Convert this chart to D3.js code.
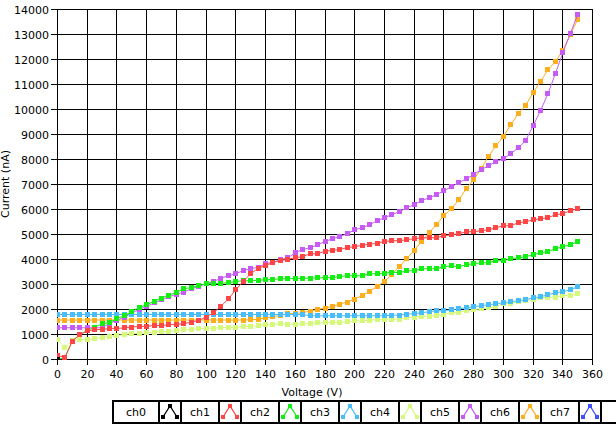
<!DOCTYPE html>
<html><head><meta charset="utf-8">
<script src="https://cdn.jsdelivr.net/npm/d3@7"></script>
<style>
html,body{margin:0;padding:0;background:#fff;overflow:hidden}
svg{display:block;font-family:"DejaVu Sans",Verdana,sans-serif;font-size:11px}
</style></head><body><svg id="c" width="616" height="424"></svg>
<script>
const voltages=[0,5,10,15,20,25,30,35,40,45,50,55,60,65,70,75,80,85,90,95,100,105,110,115,120,125,130,135,140,145,150,155,160,165,170,175,180,185,190,195,200,205,210,215,220,225,230,235,240,245,250,255,260,265,270,275,280,285,290,295,300,305,310,315,320,325,330,335,340,345,350];
const ch0=[0];
const ch1=[150,100,740,990,1150,1190,1210,1230,1240,1270,1300,1320,1330,1360,1360,1390,1410,1430,1500,1560,1700,1870,2130,2430,2790,3130,3430,3650,3760,3880,3960,4010,4070,4120,4230,4230,4330,4360,4400,4480,4510,4570,4610,4650,4720,4750,4750,4790,4830,4870,4870,4870,4950,4990,5030,5110,5110,5150,5190,5270,5350,5350,5470,5510,5590,5630,5670,5790,5830,5950,6030];
const ch2=[0,70,740,1000,1160,1290,1430,1480,1630,1760,1910,2080,2190,2330,2460,2580,2680,2830,2880,2960,3030,3030,3050,3070,3120,3150,3150,3170,3190,3200,3230,3230,3240,3250,3250,3270,3270,3280,3320,3350,3350,3350,3430,3430,3440,3500,3470,3550,3550,3630,3630,3630,3710,3750,3710,3790,3830,3870,3870,3950,3950,4030,4070,4110,4190,4270,4310,4430,4510,4590,4710];
const ch3=[1800,1800,1800,1800,1800,1800,1800,1800,1800,1800,1800,1800,1800,1800,1800,1800,1800,1800,1800,1800,1800,1800,1800,1800,1800,1800,1800,1800,1800,1800,1800,1800,1800,1800,1750,1750,1750,1750,1750,1750,1750,1750,1750,1750,1750,1770,1780,1820,1830,1870,1910,1950,1950,1990,2030,2070,2110,2150,2190,2230,2270,2310,2350,2390,2470,2510,2590,2670,2710,2790,2910];
const ch4=[800,470,760,790,790,830,890,920,960,1000,1030,1050,1070,1090,1120,1130,1160,1190,1210,1230,1250,1250,1280,1280,1290,1320,1320,1360,1390,1400,1430,1410,1410,1430,1430,1470,1470,1480,1490,1510,1550,1550,1570,1590,1610,1620,1620,1670,1690,1730,1730,1770,1810,1870,1890,1950,1990,2030,2070,2130,2230,2250,2310,2350,2390,2470,2490,2490,2570,2550,2630];
const ch5=[1270,1270,1270,1270,1270,1270,1270,1450,1570,1700,1850,2010,2130,2260,2390,2510,2610,2700,2830,2920,3030,3120,3250,3350,3430,3560,3630,3690,3830,3890,3990,4070,4270,4400,4470,4590,4720,4830,4920,5030,5190,5270,5390,5550,5670,5800,5910,6070,6190,6350,6470,6590,6750,6910,7070,7230,7390,7590,7750,7910,8030,8230,8470,8750,9350,9950,10630,11430,12270,13030,13790];
const ch6=[1580,1580,1580,1580,1580,1580,1580,1580,1580,1580,1580,1580,1580,1580,1580,1580,1580,1580,1580,1580,1580,1580,1580,1580,1580,1580,1590,1610,1670,1710,1760,1830,1850,1870,1940,2000,2050,2130,2220,2300,2420,2560,2730,2920,3120,3400,3720,4030,4370,4710,5070,5400,5750,6030,6380,6830,7190,7630,8120,8550,8920,9390,9830,10160,10670,11110,11590,11910,12360,12980,13600];
const ch7=[];
const seriesNames=["ch0","ch1","ch2","ch3","ch4","ch5","ch6","ch7"];
const seriesColors=["#000000","#ff4646","#14ee14","#48bdfa","#d6f87c","#c65cf4","#fdae1c","#4050fa"];
const seriesValues=[ch0,ch1,ch2,ch3,ch4,ch5,ch6,ch7];
const xTicks=[0,20,40,60,80,100,120,140,160,180,200,220,240,260,280,300,320,340,360];
const yTicks=[0,1000,2000,3000,4000,5000,6000,7000,8000,9000,10000,11000,12000,13000,14000];

const svg=d3.select("#c");
const x=d3.scaleLinear().domain([0,360]).range([57.5,592.5]);
const y=d3.scaleLinear().domain([0,14000]).range([359.5,9.5]);
const px=v=>Math.round(x(v)-0.5)+0.5;
const py=v=>Math.round(y(v)-0.5)+0.5;

svg.append("rect").attr("width",616).attr("height",424).attr("fill","#fff");

// grid
const g=svg.append("g").attr("shape-rendering","crispEdges").attr("stroke","#000").attr("stroke-width",1);
xTicks.forEach(t=>{
  g.append("line").attr("x1",px(t)).attr("x2",px(t)).attr("y1",py(14000)).attr("y2",py(0)+5);
});
yTicks.forEach(t=>{
  g.append("line").attr("x1",px(0)-7).attr("x2",px(360)).attr("y1",py(t)).attr("y2",py(t));
});

// tick labels
const tl=svg.append("g").attr("fill","#000");
yTicks.forEach(t=>{
  tl.append("text").attr("x",49).attr("y",py(t)+4).attr("text-anchor","end").text(t);
});
xTicks.forEach(t=>{
  tl.append("text").attr("x",px(t)).attr("y",378).attr("text-anchor","middle").text(t);
});
svg.append("text").attr("x",312).attr("y",396).attr("text-anchor","middle").text("Voltage (V)");
svg.append("text").attr("transform","translate(9,184) rotate(-90)").attr("text-anchor","middle").text("Current (nA)");

// clip
svg.append("clipPath").attr("id","pc").append("rect").attr("x",57).attr("y",9).attr("width",536).attr("height",351);
const plot=svg.append("g").attr("clip-path","url(#pc)");
const line=d3.line().x((d,i)=>x(voltages[i])).y(d=>y(d));
const ms=5;
for(let s=seriesValues.length-1;s>=0;s--){
  const vals=seriesValues[s];
  if(!vals.length) continue;
  const col=seriesColors[s];
  const sg=plot.append("g");
  sg.append("path").attr("d",line(vals)).attr("fill","none").attr("stroke",col).attr("stroke-width",1);
  sg.selectAll("rect").data(vals).join("rect")
    .attr("x",(d,i)=>Math.round(x(voltages[i])-ms/2))
    .attr("y",d=>Math.round(y(d)-ms/2))
    .attr("width",ms).attr("height",ms).attr("fill",col);
}

// legend
const lg=svg.append("g").attr("shape-rendering","crispEdges");
lg.append("rect").attr("x",112).attr("y",400).attr("width",510).attr("height",24).attr("fill","#000");
const cellTop=402, cellH=20;
let cx=114;
seriesNames.forEach((n,i)=>{
  const lw=(i===0)?44:36;
  lg.append("rect").attr("x",cx).attr("y",cellTop).attr("width",lw).attr("height",cellH).attr("fill","#fff");
  svg.append("text").attr("x",cx+lw/2).attr("y",416).attr("text-anchor","middle").text(n);
  cx+=lw+2;
  lg.append("rect").attr("x",cx).attr("y",cellTop).attr("width",20).attr("height",cellH).attr("fill","#fff");
  const ic=cx+10, col=seriesColors[i];
  const pts=[[ic-7,417],[ic,406],[ic+7,417]];
  svg.append("path").attr("d",d3.line()(pts)).attr("fill","none").attr("stroke",col).attr("stroke-width",1.3);
  pts.forEach(p=>svg.append("rect").attr("x",p[0]-2).attr("y",p[1]-2).attr("width",4).attr("height",4).attr("fill",col));
  cx+=22;
});
lg.append("rect").attr("x",cx).attr("y",cellTop).attr("width",30).attr("height",cellH).attr("fill","#fff");
</script></body></html>
